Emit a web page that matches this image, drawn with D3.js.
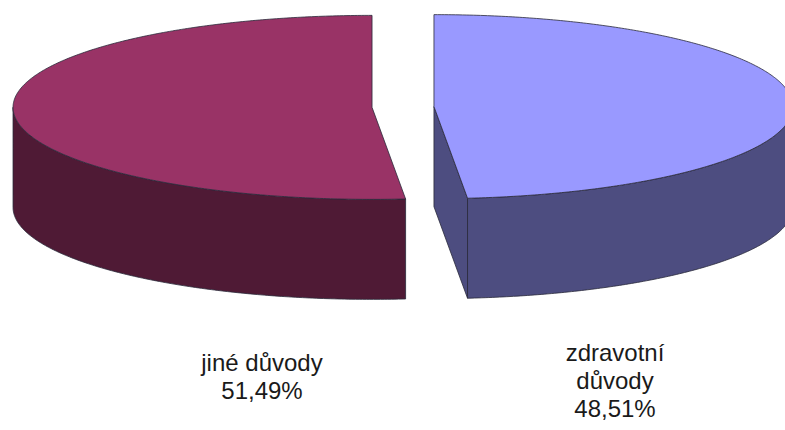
<!DOCTYPE html>
<html>
<head>
<meta charset="utf-8">
<script src="https://cdn.jsdelivr.net/npm/d3@7"></script>
<style>
  html, body { margin: 0; padding: 0; background: #ffffff; }
  svg { display: block; }
</style>
</head>
<body>
<svg id="chart" width="785" height="430"></svg>
<script>
// ---- data ----
const categories = ["zdravotní důvody", "jiné důvody"];
const values = [48.51, 51.49];
const labelLines = [["zdravotní", "důvody"], ["jiné důvody"]];
const topColors = ["#9999FF", "#993366"];
const sideColors = ["#4D4D80", "#4F1A35"];

// ---- layout ----
const W = 785, H = 430;
const cx = 403, cy = 107;
const rx = 359, ry = 92;
const depth = 100;
const explode = 31;
const labelPos = [{x: 615, y: 361}, {x: 262, y: 371}];

const svg = d3.select("#chart");
const color = d3.scaleOrdinal().domain(categories).range(topColors);
const sideColor = d3.scaleOrdinal().domain(categories).range(sideColors);
const locale = d3.formatLocale({decimal: ",", thousands: " ", grouping: [3], currency: ["", ""]});
const fmt = locale.format(".2f");

const pie = d3.pie().sort(null).value(d => d.value);
const arcs = pie(categories.map((c, i) => ({cat: c, value: values[i]})));

function pt(a, ox, oy, dz) {
  return [ox + rx * Math.sin(a), oy - ry * Math.cos(a) + (dz || 0)];
}
function arcPts(a0, a1, ox, oy, dz) {
  const n = Math.max(2, Math.ceil(Math.abs(a1 - a0) / 0.01));
  return d3.range(n + 1).map(i => pt(a0 + (a1 - a0) * i / n, ox, oy, dz));
}
const line = d3.line();

const gWalls = svg.append("g");
const gTops = svg.append("g");
const stroke = "#2a2a3a";

arcs.forEach(d => {
  const mid = (d.startAngle + d.endAngle) / 2;
  const ox = cx + explode * Math.sin(mid);
  const oy = cy - explode * Math.cos(mid) * ry / rx;
  const sc = sideColor(d.data.cat);

  // radial walls (only those facing the viewer)
  [[d.startAngle, d.startAngle - Math.PI / 2], [d.endAngle, d.endAngle + Math.PI / 2]].forEach(([a, n]) => {
    if (Math.cos(n) < -0.01) {
      const p = pt(a, ox, oy);
      const poly = [[ox, oy], p, [p[0], p[1] + depth], [ox, oy + depth]];
      gWalls.append("path")
        .attr("d", line(poly) + "Z")
        .attr("fill", sc).attr("stroke", stroke).attr("stroke-width", 0.8)
        .attr("stroke-linejoin", "round");
    }
  });

  // outer curved wall, front half only (angles between PI/2 and 3PI/2)
  const a0 = Math.max(d.startAngle, Math.PI / 2);
  const a1 = Math.min(d.endAngle, 3 * Math.PI / 2);
  if (a1 > a0) {
    const topPts = arcPts(a0, a1, ox, oy, 0);
    const botPts = arcPts(a1, a0, ox, oy, depth);
    gWalls.append("path")
      .attr("d", line(topPts.concat(botPts)) + "Z")
      .attr("fill", sc).attr("stroke", stroke).attr("stroke-width", 0.8)
      .attr("stroke-linejoin", "round");
  }

  // top face
  const tp = [[ox, oy]].concat(arcPts(d.startAngle, d.endAngle, ox, oy, 0));
  gTops.append("path")
    .attr("d", line(tp) + "Z")
    .attr("fill", color(d.data.cat)).attr("stroke", stroke).attr("stroke-width", 0.8)
    .attr("stroke-linejoin", "round");
});

// labels
const gLab = svg.append("g")
  .attr("font-family", "'Liberation Sans', Arial, sans-serif")
  .attr("font-size", 24)
  .attr("fill", "#1a1a1a")
  .attr("text-anchor", "middle");

arcs.forEach((d, i) => {
  const lines = labelLines[i].concat([fmt(d.data.value) + "%"]);
  const t = gLab.append("text").attr("x", labelPos[i].x).attr("y", labelPos[i].y);
  lines.forEach((s, k) => {
    t.append("tspan").attr("x", labelPos[i].x).attr("dy", k === 0 ? 0 : 28).text(s);
  });
});
</script>
</body>
</html>
